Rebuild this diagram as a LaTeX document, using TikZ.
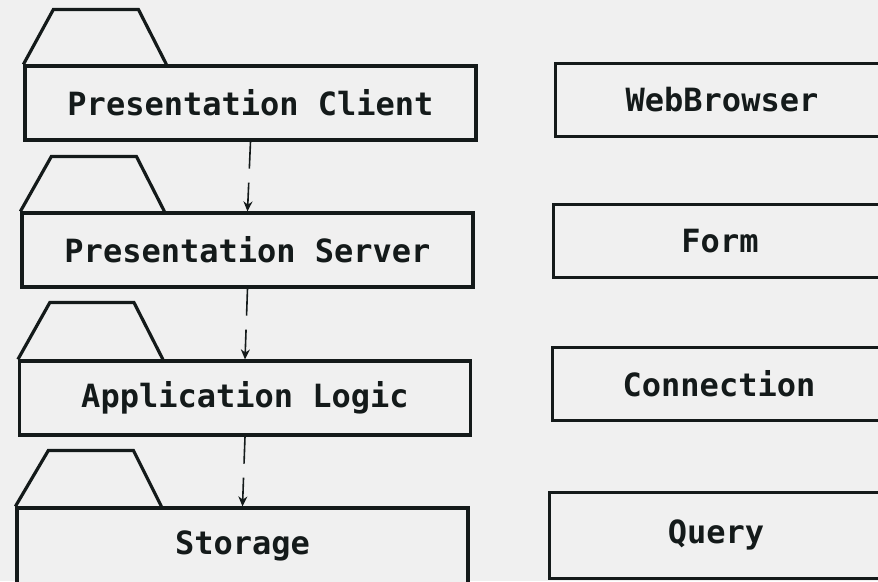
\documentclass[tikz,border=0pt]{standalone}
\usepackage{fontspec}
\setmonofont{DejaVu Sans Mono}
\usetikzlibrary{arrows.meta}
\definecolor{bg}{HTML}{F0F0F0}
\definecolor{ink}{HTML}{141A1A}
\tikzset{
  lbl/.style={font=\ttfamily\bfseries\fontsize{32}{34}\selectfont, text=ink},
  pkgbox/.style={lbl, draw=ink, line width=3.2pt, fill=bg, minimum width=451pt, minimum height=74pt,
    inner sep=0pt},
  clsbox/.style={lbl, draw=ink, line width=3pt, fill=bg, minimum width=334pt, minimum height=73pt,
    inner sep=0pt},
  tabline/.style={draw=ink, line width=3.2pt, line join=miter},
  dep/.style={draw=ink, line width=1.6pt, dash pattern=on 27pt off 14pt, -{Stealth[length=10pt,width=9pt]}}
}
\begin{document}
\begin{tikzpicture}[x=1pt,y=-1pt]
\fill[bg] (0,0) rectangle (878,581);
\clip (0,0) rectangle (878,581);
% packages
\node[pkgbox] (pc) at (250.5,103) {Presentation Client};
\node[pkgbox] (ps) at (247.5,250) {Presentation Server};
\node[pkgbox] (al) at (245,398) {Application Logic};
\node[pkgbox, minimum height=76pt] (st) at (242.5,546) {Storage};
% tabs
\draw[tabline] (pc.north west) -- ++(30,-55) -- ++(85,0) -- ++(28,55);
\draw[tabline] (ps.north west) -- ++(31,-55) -- ++(85,0) -- ++(28,55);
\draw[tabline] (al.north west) -- ++(32,-57) -- ++(84,0) -- ++(29,57);
\draw[tabline] (st.north west) -- ++(33,-56) -- ++(85,0) -- ++(28,56);
% classes
\node[clsbox] (wb) at (722,100) {WebBrowser};
\node[clsbox] (fm) at (720,241) {Form};
\node[clsbox] (cn) at (719,384) {Connection};
\node[clsbox, minimum height=86pt] (qy) at (716,535) {Query};
% dependencies
\draw[dep] (pc.south) -- (ps.north);
\draw[dep] (ps.south) -- (al.north);
\draw[dep] (al.south) -- (st.north);
\end{tikzpicture}
\end{document}
